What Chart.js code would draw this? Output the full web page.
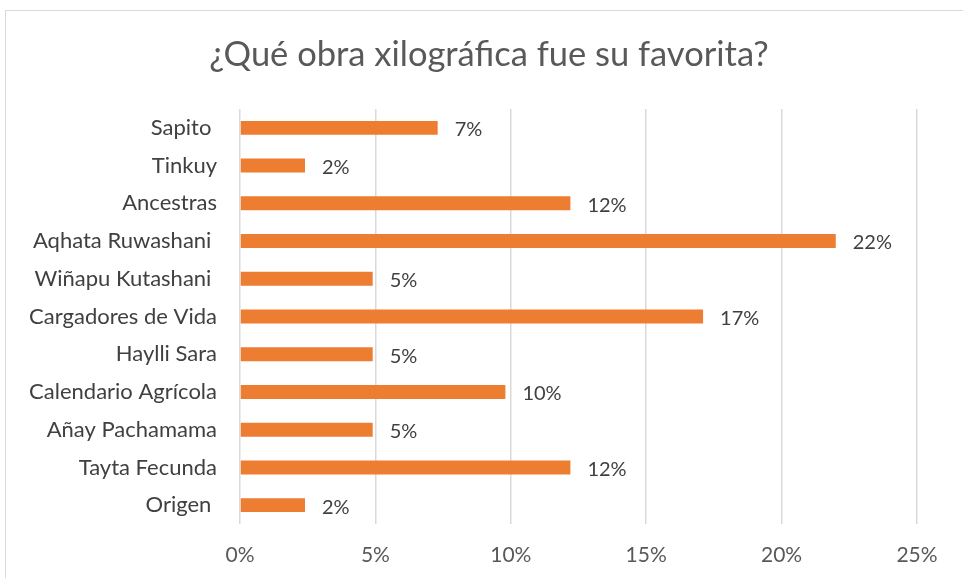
<!DOCTYPE html>
<html lang="es">
<head>
    <meta charset="utf-8" />
    <script src="https://cdn.jsdelivr.net/npm/chart.js@4.4.0/dist/chart.umd.min.js"></script>
    <style>
        html, body { margin: 0; padding: 0; background: #fff; overflow: hidden; }
        #box { position: relative; width: 963px; height: 578px; }
    </style>
    <script>
        // datos del grafico (porcentaje de respuestas)
        var obras = ['Sapito ', 'Tinkuy', 'Ancestras', 'Aqhata Ruwashani ', 'Wiñapu Kutashani ',
                     'Cargadores de Vida', 'Haylli Sara', 'Calendario Agrícola', 'Añay Pachamama',
                     'Tayta Fecunda', 'Origen '];
        var porcentajes = [7.3, 2.4, 12.2, 22.0, 4.9, 17.1, 4.9, 9.8, 4.9, 12.2, 2.4];
        var etiquetas = ['7%', '2%', '12%', '22%', '5%', '17%', '5%', '10%', '5%', '12%', '2%'];
        var titulo = '¿Qué obra xilográfica fue su favorita?';
    </script>
</head>
<body>
    <div id="box">
        <canvas id="myChart" width="963" height="578"></canvas>
    </div>

    <script>
        const FONT = 'Lato, "Open Sans", sans-serif';

        // marco, titulo y etiquetas de datos
        const extras = {
            id: 'extras',
            beforeDraw(chart) {
                const c = chart.ctx;
                c.save();
                c.strokeStyle = '#d9d9d9';
                c.lineWidth = 1;
                c.strokeRect(5.5, 10.5, 1200, 1200);
                c.fillStyle = '#595959';
                c.font = '34.5px ' + FONT;
                c.textAlign = 'center';
                c.textBaseline = 'middle';
                c.fillText(titulo, 489, 55);
                c.restore();
            },
            afterDatasetsDraw(chart) {
                const c = chart.ctx;
                const meta = chart.getDatasetMeta(0);
                c.save();
                c.fillStyle = '#404040';
                c.font = '20px ' + FONT;
                c.textAlign = 'left';
                c.textBaseline = 'middle';
                meta.data.forEach(function (bar, i) {
                    c.fillText(etiquetas[i], bar.x + 17, bar.y + 2);
                });
                c.restore();
            }
        };

        const ctx = document.getElementById('myChart');
        const myChart = new Chart(ctx, {
            type: 'bar',
            data: {
                labels: obras,
                datasets: [{
                    data: porcentajes,
                    backgroundColor: '#ED7D31',
                    categoryPercentage: 1,
                    barPercentage: 0.37
                }]
            },
            options: {
                indexAxis: 'y',
                responsive: false,
                animation: false,
                layout: { padding: { top: 109, right: 46, left: 0, bottom: 0 } },
                plugins: {
                    legend: { display: false },
                    tooltip: { enabled: false }
                },
                scales: {
                    x: {
                        min: 0,
                        max: 25,
                        ticks: {
                            stepSize: 5,
                            padding: 19,
                            color: '#595959',
                            font: { family: FONT, size: 21 },
                            callback: function (v) { return v + '%'; }
                        },
                        grid: { color: '#d9d9d9', lineWidth: 1.5, drawTicks: false },
                        border: { display: false },
                        afterFit: function (s) { s.height = 54; }
                    },
                    y: {
                        ticks: {
                            padding: 23,
                            color: '#404040',
                            font: { family: FONT, size: 22 }
                        },
                        grid: { display: false, drawTicks: false },
                        border: { display: false },
                        afterFit: function (s) { s.width = 240; }
                    }
                }
            },
            plugins: [extras]
        });
    </script>
</body>
</html>
